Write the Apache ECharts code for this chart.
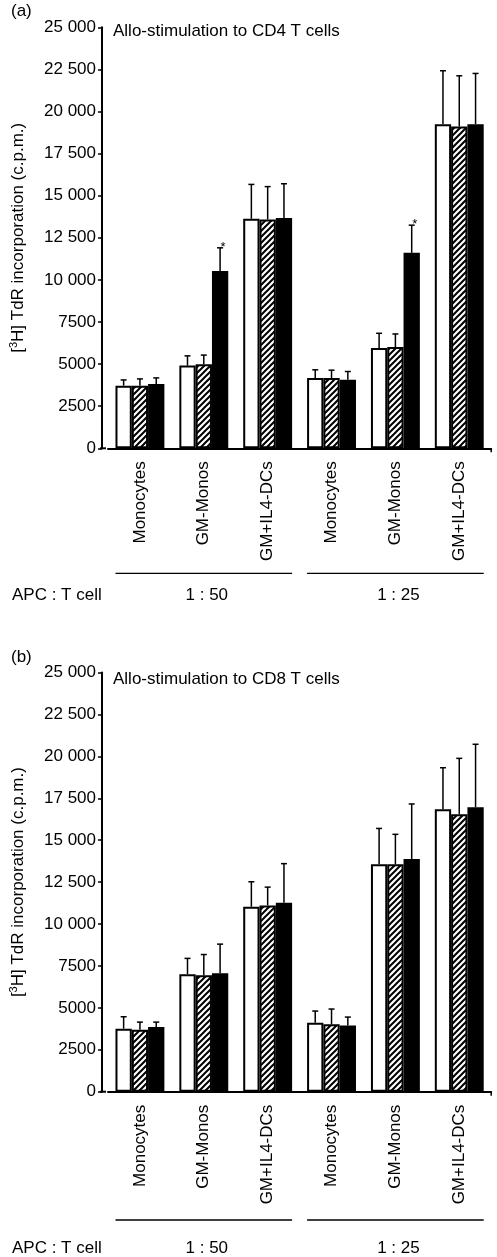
<!DOCTYPE html>
<html><head><meta charset="utf-8">
<script src="https://cdn.jsdelivr.net/npm/echarts@6/dist/echarts.min.js"></script>
<style>html,body{margin:0;padding:0;background:#fff}#c{width:497px;height:1257px}</style>
</head><body><div id="c"></div>
<script>
// ---------- data ----------
const categories = ['Monocytes', 'GM-Monos', 'GM+IL4-DCs', 'Monocytes', 'GM-Monos', 'GM+IL4-DCs'];
const ratioGroups = ['1 : 50', '1 : 25'];
const ratioLabel = 'APC : T cell';
const yTickLabels = ['0', '2500', '5000', '7500', '10 000', '12 500', '15 000', '17 500', '20 000', '22 500', '25 000'];
const panelLetters = ['(a)', '(b)'];
const panelTitles = ['Allo-stimulation to CD4 T cells', 'Allo-stimulation to CD8 T cells'];
const yName = '[{sup|3}H] TdR incorporation (c.p.m.)';

// Panel (a) CD4
const aWhite = [3720, 4910, 13630, 4170, 5950, 19250];
const aHatch = [3720, 4990, 13590, 4170, 6010, 19110];
const aBlack = [3820, 10525, 13670, 4070, 11610, 19250];
const aWhiteErr = [340, 580, 2040, 490, 880, 3170];
const aHatchErr = [400, 545, 1950, 470, 780, 3010];
const aBlackErr = [360, 1380, 2040, 490, 1640, 3010];
const aStars = ['', '*', '', '', '*', ''];

// Panel (b) CD8
const bWhite = [3760, 7010, 11030, 4110, 13560, 16840];
const bHatch = [3700, 6940, 11110, 4020, 13560, 16540];
const bBlack = [3860, 7060, 11270, 3955, 13880, 16960];
const bWhiteErr = [710, 940, 1490, 700, 2140, 2480];
const bHatchErr = [450, 1240, 1090, 910, 1790, 3340];
const bBlackErr = [290, 1740, 2330, 495, 3280, 3760];
const bStars = ['', '', '', '', '', ''];

// ---------- styling / layout ----------
const FONT = "'Liberation Sans', Arial, Helvetica, sans-serif";
const BAR_W = 16.3;
const AXIS_OFF = 6;
const grids = [
  { left: 106, width: 385.2, top: 27.3, height: 421 },
  { left: 106, width: 385.2, top: 672.5, height: 419.2 }
];
const annot = [
  { lineY: 573.3, textY: 595 },
  { lineY: 1220, textY: 1248 }
];

function hatchPattern() {
  const s = 6;
  const cv = document.createElement('canvas');
  cv.width = s; cv.height = s;
  const ctx = cv.getContext('2d');
  ctx.fillStyle = '#fff'; ctx.fillRect(0, 0, s, s);
  ctx.strokeStyle = '#000'; ctx.lineWidth = 2;
  ctx.beginPath();
  ctx.moveTo(-1, s + 1); ctx.lineTo(s + 1, -1);
  ctx.moveTo(-1, 1); ctx.lineTo(1, -1);
  ctx.moveTo(s - 1, s + 1); ctx.lineTo(s + 1, s - 1);
  ctx.stroke();
  return cv;
}
const hatch = { image: hatchPattern(), repeat: 'repeat' };

const panels = [
  { vals: [aWhite, aHatch, aBlack], errs: [aWhiteErr, aHatchErr, aBlackErr], stars: aStars },
  { vals: [bWhite, bHatch, bBlack], errs: [bWhiteErr, bHatchErr, bBlackErr], stars: bStars }
];
const fills = ['#fff', hatch, '#000'];

const xAxes = [], yAxes = [], series = [], titles = [];
panels.forEach((p, pi) => {
  xAxes.push({
    type: 'category', gridIndex: pi, data: categories,
    axisLine: { lineStyle: { color: '#000', width: 2 } },
    axisTick: { show: false },
    axisLabel: { interval: 0, rotate: 90, margin: 13, fontSize: 17, color: '#000', fontFamily: FONT }
  });
  yAxes.push({
    type: 'value', gridIndex: pi, min: 0, max: 25000, interval: 2500, offset: AXIS_OFF,
    axisLine: { show: true, lineStyle: { color: '#000', width: 2 } },
    axisTick: { show: true, length: 4, lineStyle: { color: '#000', width: 1.5 } },
    splitLine: { show: false },
    axisLabel: { fontSize: 17, color: '#000', margin: 6, fontFamily: FONT,
      formatter: v => yTickLabels[Math.round(v / 2500)] },
    name: yName, nameLocation: 'middle', nameGap: 74,
    nameTextStyle: { fontSize: 17, color: '#000', fontFamily: FONT, lineHeight: 20,
      rich: { sup: { fontSize: 11, verticalAlign: 'top', lineHeight: 20, color: '#000', fontFamily: FONT } } }
  });
  p.vals.forEach((arr, si) => {
    series.push({
      type: 'bar', xAxisIndex: pi, yAxisIndex: pi, data: arr,
      barWidth: BAR_W, barGap: '0%', z: 2,
      itemStyle: { color: fills[si], borderColor: '#000', borderWidth: 2 },
      emphasis: { disabled: true }, animation: false
    });
  });
  const errData = [];
  p.vals.forEach((arr, si) => arr.forEach((v, ci) => {
    errData.push([ci, si, v, p.errs[si][ci], si === 2 && p.stars[ci] ? 1 : 0]);
  }));
  series.push({
    type: 'custom', xAxisIndex: pi, yAxisIndex: pi, data: errData, z: 5,
    encode: { x: 0, y: 2 }, animation: false, silent: true,
    renderItem: (params, api) => {
      const ci = api.value(0), si = api.value(1), v = api.value(2), sd = api.value(3), st = api.value(4);
      const base = api.coord([ci, v]);
      const top = api.coord([ci, v + sd]);
      const x = base[0] + (si - 1) * BAR_W;
      const st1 = { stroke: '#000', lineWidth: 1.5 };
      const ch = [
        { type: 'line', shape: { x1: x, y1: base[1], x2: x, y2: top[1] }, style: st1 },
        { type: 'line', shape: { x1: x - 3, y1: top[1], x2: x + 3, y2: top[1] }, style: st1 }
      ];
      if (st) ch.push({ type: 'text', x: x + 3, y: top[1] + 6,
        style: { text: p.stars[ci], fontSize: 13, fontFamily: FONT, fill: '#000', align: 'center', verticalAlign: 'bottom' } });
      return { type: 'group', children: ch };
    }
  });
  titles.push({ text: panelLetters[pi], left: 11, top: grids[pi].top - 24, padding: 0,
    textStyle: { fontSize: 17, fontWeight: 'normal', color: '#000', fontFamily: FONT } });
  titles.push({ text: panelTitles[pi], left: 113, top: grids[pi].top - 4 + (pi ? 2 : 0), padding: 0,
    textStyle: { fontSize: 17, fontWeight: 'normal', color: '#000', fontFamily: FONT } });
});

const chart = echarts.init(document.getElementById('c'), null, { renderer: 'canvas' });
chart.setOption({
  backgroundColor: '#fff', animation: false,
  grid: grids, xAxis: xAxes, yAxis: yAxes, series: series, title: titles
});

// group annotations computed through the library's own scales
const graphics = [];
panels.forEach((p, pi) => {
  const baseY = chart.convertToPixel({ yAxisIndex: pi }, 0);
  const gl = grids[pi].left;
  graphics.push({ type: 'line', shape: { x1: gl - AXIS_OFF, y1: baseY, x2: gl, y2: baseY }, style: { stroke: '#000', lineWidth: 2 } });
  const xr = gl + grids[pi].width;
  graphics.push({ type: 'line', shape: { x1: xr, y1: baseY, x2: xr, y2: baseY + 4 }, style: { stroke: '#000', lineWidth: 1.5 } });
  ratioGroups.forEach((g, gi) => {
    const c0 = chart.convertToPixel({ xAxisIndex: pi }, gi * 3);
    const c2 = chart.convertToPixel({ xAxisIndex: pi }, gi * 3 + 2);
    const c1 = chart.convertToPixel({ xAxisIndex: pi }, gi * 3 + 1);
    graphics.push({ type: 'line', shape: { x1: c0 - 1.5 * BAR_W, y1: annot[pi].lineY, x2: c2 + 1.5 * BAR_W, y2: annot[pi].lineY },
      style: { stroke: '#000', lineWidth: 1.3 } });
    graphics.push({ type: 'text', x: c1 + 3, y: annot[pi].textY,
      style: { text: g, fontSize: 17, fontFamily: FONT, fill: '#000', align: 'center', verticalAlign: 'middle' } });
  });
  graphics.push({ type: 'text', x: 12, y: annot[pi].textY,
    style: { text: ratioLabel, fontSize: 17, fontFamily: FONT, fill: '#000', align: 'left', verticalAlign: 'middle' } });
});
chart.setOption({ graphic: graphics });
</script>
</body></html>
